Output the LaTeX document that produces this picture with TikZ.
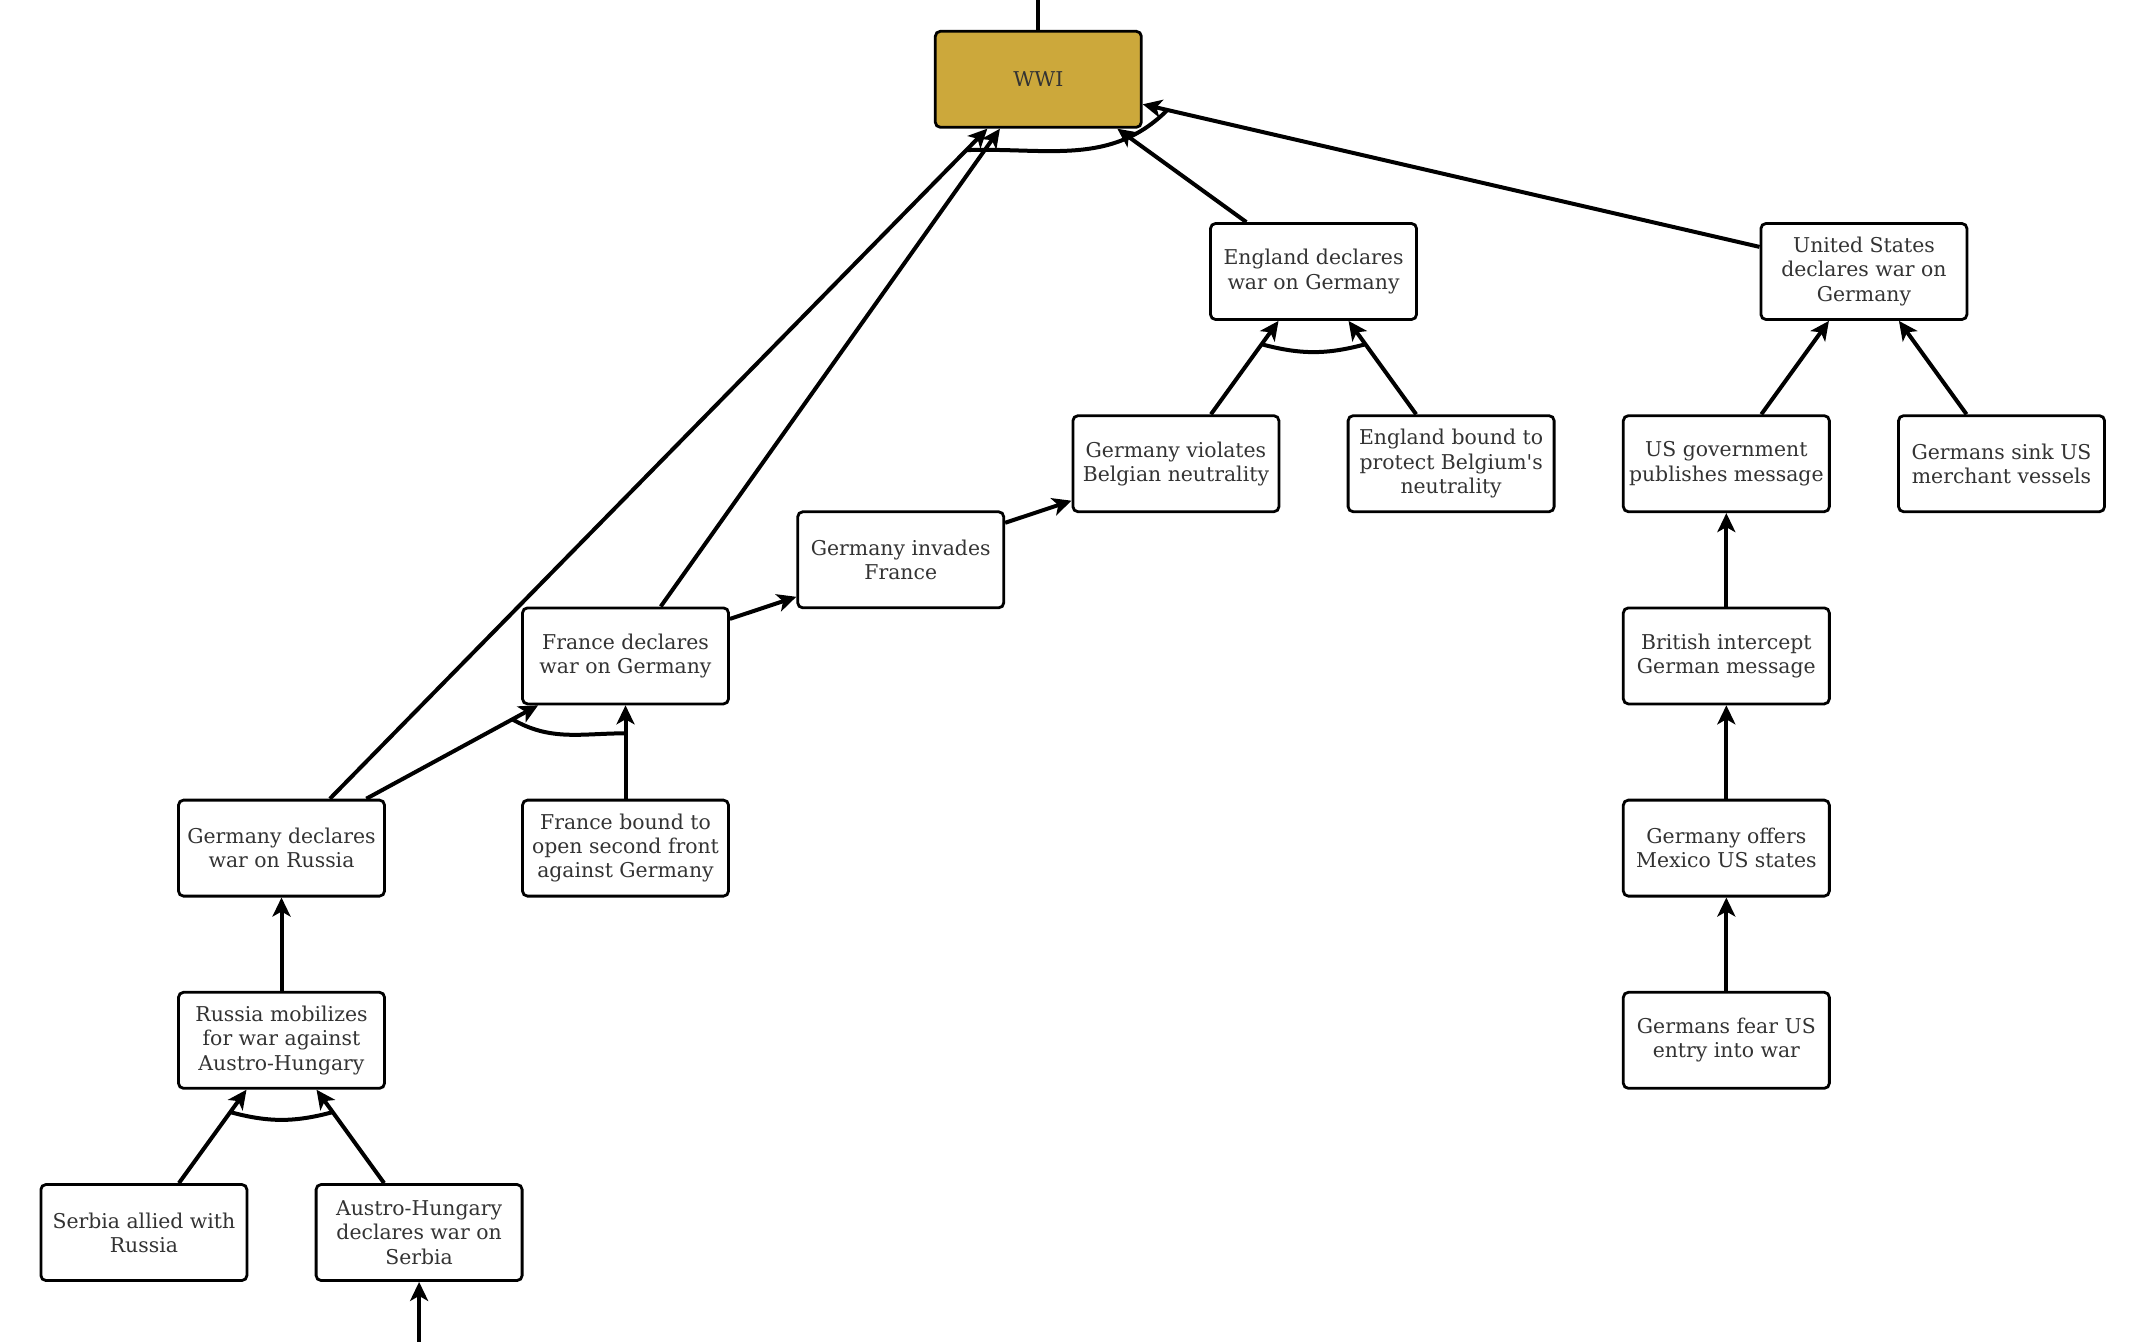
\documentclass[tikz,border=0pt]{standalone}
\usepackage{fontspec}
\setmainfont{DejaVu Serif}[Ligatures=TeXOff]
\usepackage{xcolor}
\usetikzlibrary{arrows.meta,positioning,calc}
\definecolor{wwiGold}{HTML}{CCA83B}
\definecolor{textGrey}{HTML}{333333}
\tikzset{
        % Event boxes
        node_event/.style={rectangle, rounded corners=2.5pt, draw=black, line width=1.4pt, fill=white, text=textGrey,
            minimum width=103pt, minimum height=48pt, inner sep=0pt, align=center, font=\fontsize{10.2}{12.1}\selectfont},
        % The war itself
        node_root/.style={node_event, fill=wwiGold},
        % Cause links
        edge_cause/.style={-{Stealth[length=9.5pt,width=9pt,inset=2.5pt]}, line width=2pt},
        % Joint causes
        edge_and/.style={line width=2pt}
}
\begin{document}
\begin{tikzpicture}[x=68.8pt, y=48.05pt]
    \useasboundingbox (-0.0458,0.8252) rectangle (15.579,-13.139);
    % Events
    \node[node_root]  (wwi)       at (7.5,0)   {WWI};
    \node[node_event] (eng_war)   at (9.5,-2)  {England declares\\war on Germany};
    \node[node_event] (us_war)    at (13.5,-2) {United States\\declares war on\\Germany};
    \node[node_event] (ger_belg)  at (8.5,-4)  {Germany violates\\Belgian neutrality};
    \node[node_event] (eng_bound) at (10.5,-4) {England bound to\\protect Belgium's\\neutrality};
    \node[node_event] (us_pub)    at (12.5,-4) {US government\\publishes message};
    \node[node_event] (ger_sink)  at (14.5,-4) {Germans sink US\\merchant vessels};
    \node[node_event] (ger_inv)   at (6.5,-5)  {Germany invades\\France};
    \node[node_event] (brit_int)  at (12.5,-6) {British intercept\\German message};
    \node[node_event] (fra_war)   at (4.5,-6)  {France declares\\war on Germany};
    \node[node_event] (ger_rus)   at (2,-8)    {Germany declares\\war on Russia};
    \node[node_event] (fra_bound) at (4.5,-8)  {France bound to\\open second front\\against Germany};
    \node[node_event] (ger_mex)   at (12.5,-8) {Germany offers\\Mexico US states};
    \node[node_event] (rus_mob)   at (2,-10)   {Russia mobilizes\\for war against\\Austro-Hungary};
    \node[node_event] (ger_fear)  at (12.5,-10) {Germans fear US\\entry into war};
    \node[node_event] (serbia)    at (1,-12)   {Serbia allied with\\Russia};
    \node[node_event] (austria)   at (3,-12)   {Austro-Hungary\\declares war on\\Serbia};
    \coordinate (top_end)    at (7.5,0.8252);
    \coordinate (bottom_end) at (3,-13.139);

    % Links into WWI
    \draw[edge_and] (wwi.north) -- (top_end);
    \draw[edge_cause] ([xshift=24.2pt]ger_rus.north) -- coordinate[pos=0.968] (and_w1) ([xshift=-25.5pt]wwi.south);
    \draw[edge_cause] ([xshift=17.6pt]fra_war.north) -- ([xshift=-19.2pt]wwi.south);
    \draw[edge_cause] ([xshift=-33.6pt]eng_war.north) -- ([xshift=39.5pt]wwi.south);
    \draw[edge_cause] ([yshift=12.3pt]us_war.west) -- coordinate[pos=0.96] (and_w2) ([yshift=-12.5pt]wwi.east);
    \draw[edge_and] (and_w1) to[out=2,in=-135] (and_w2);

    % Russia and France
    \draw[edge_cause] (bottom_end) -- (austria.south);
    \draw[edge_cause] ([xshift=17.5pt]serbia.north) -- coordinate[pos=0.76] (and_r1) ([xshift=-17.5pt]rus_mob.south);
    \draw[edge_cause] ([xshift=-17.5pt]austria.north) -- coordinate[pos=0.76] (and_r2) ([xshift=17.5pt]rus_mob.south);
    \draw[edge_and] (and_r1) to[bend right=15] (and_r2);
    \draw[edge_cause] (rus_mob.north) -- (ger_rus.south);
    \draw[edge_cause] ([xshift=42.4pt]ger_rus.north) -- coordinate[pos=0.85] (and_f1) ([xshift=-43.7pt]fra_war.south);
    \draw[edge_cause] (fra_bound.north) -- coordinate[pos=0.7] (and_f2) (fra_war.south);
    \draw[edge_and] (and_f1) to[out=-30,in=180] (and_f2);

    % Belgium and England
    \draw[edge_cause] ([yshift=18.5pt]fra_war.east) -- ([yshift=-18.5pt]ger_inv.west);
    \draw[edge_cause] ([yshift=18.5pt]ger_inv.east) -- ([yshift=-18.5pt]ger_belg.west);
    \draw[edge_cause] ([xshift=17.5pt]ger_belg.north) -- coordinate[pos=0.75] (and_e1) ([xshift=-17.5pt]eng_war.south);
    \draw[edge_cause] ([xshift=-17.5pt]eng_bound.north) -- coordinate[pos=0.75] (and_e2) ([xshift=17.5pt]eng_war.south);
    \draw[edge_and] (and_e1) to[bend right=15] (and_e2);

    % United States
    \draw[edge_cause] (ger_fear) -- (ger_mex);
    \draw[edge_cause] (ger_mex) -- (brit_int);
    \draw[edge_cause] (brit_int) -- (us_pub);
    \draw[edge_cause] ([xshift=17.5pt]us_pub.north) -- ([xshift=-17.5pt]us_war.south);
    \draw[edge_cause] ([xshift=-17.5pt]ger_sink.north) -- ([xshift=17.5pt]us_war.south);
\end{tikzpicture}
\end{document}
